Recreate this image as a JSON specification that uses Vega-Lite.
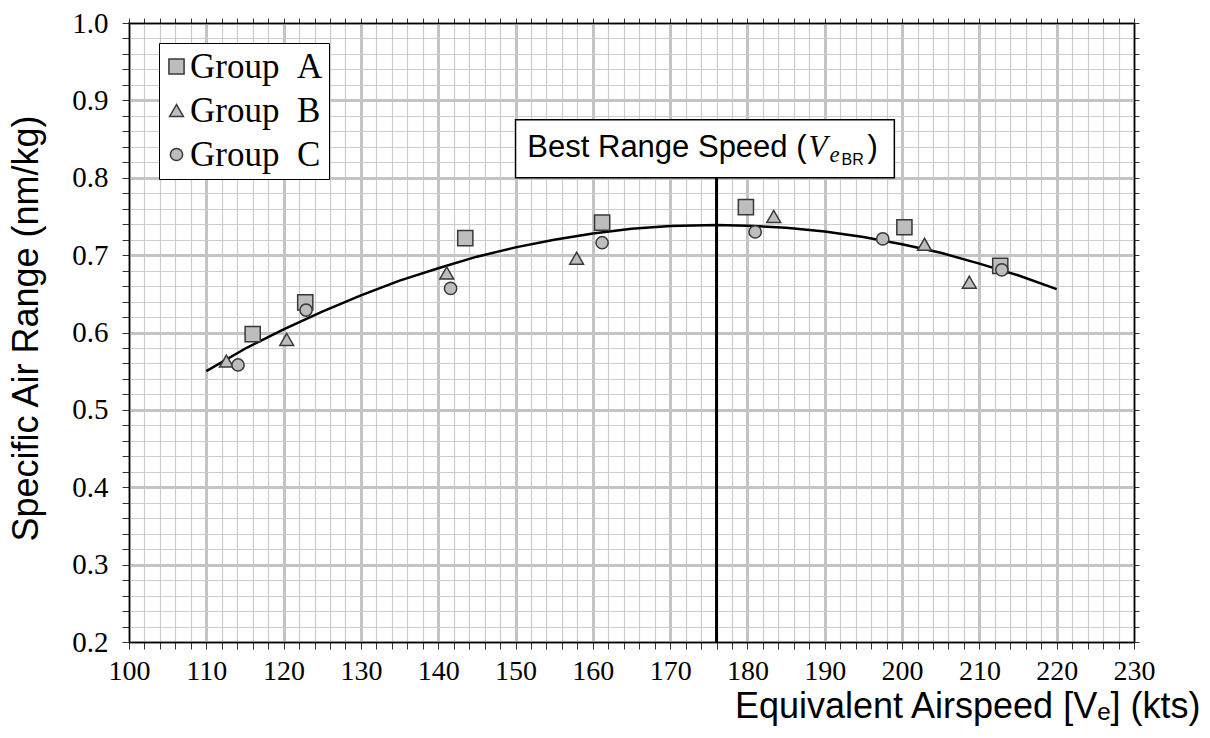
{
  "$schema": "https://vega.github.io/schema/vega-lite/v6.json",
  "autosize": {"type": "none"},
  "padding": {"left": 129, "top": 23, "right": 76, "bottom": 96},
  "width": 1005,
  "height": 619,
  "background": "white",
  "config": {
    "view": {"stroke": "black", "strokeWidth": 1.5},
    "axis": {"domainColor": "black", "domainWidth": 1.5, "tickColor": "#333333", "tickWidth": 1, "tickSize": 7, "labelFont": "Liberation Serif", "labelFontSize": 29, "labelColor": "black", "labelOverlap": false, "labelFlush": false, "titleFont": "Liberation Sans", "titleColor": "black", "titleFontWeight": "normal"}
  },
  "datasets": {
    "points": [
      {"group": "Group A", "speed": 116.0, "sar": 0.598},
      {"group": "Group A", "speed": 122.8, "sar": 0.639},
      {"group": "Group A", "speed": 143.5, "sar": 0.722},
      {"group": "Group A", "speed": 161.2, "sar": 0.742},
      {"group": "Group A", "speed": 179.8, "sar": 0.762},
      {"group": "Group A", "speed": 200.3, "sar": 0.736},
      {"group": "Group A", "speed": 212.7, "sar": 0.686},
      {"group": "Group B", "speed": 112.6, "sar": 0.563},
      {"group": "Group B", "speed": 120.4, "sar": 0.591},
      {"group": "Group B", "speed": 141.1, "sar": 0.677},
      {"group": "Group B", "speed": 157.9, "sar": 0.696},
      {"group": "Group B", "speed": 183.4, "sar": 0.750},
      {"group": "Group B", "speed": 202.9, "sar": 0.714},
      {"group": "Group B", "speed": 208.7, "sar": 0.665},
      {"group": "Group C", "speed": 114.1, "sar": 0.558},
      {"group": "Group C", "speed": 122.9, "sar": 0.629},
      {"group": "Group C", "speed": 141.6, "sar": 0.657},
      {"group": "Group C", "speed": 161.2, "sar": 0.716},
      {"group": "Group C", "speed": 181.0, "sar": 0.730},
      {"group": "Group C", "speed": 197.5, "sar": 0.721},
      {"group": "Group C", "speed": 212.9, "sar": 0.681}
    ],
    "curve": [
      {"speed": 110, "sar": 0.550},
      {"speed": 115, "sar": 0.579},
      {"speed": 120, "sar": 0.604},
      {"speed": 125, "sar": 0.627},
      {"speed": 130, "sar": 0.648},
      {"speed": 135, "sar": 0.667},
      {"speed": 140, "sar": 0.683},
      {"speed": 145, "sar": 0.698},
      {"speed": 150, "sar": 0.710},
      {"speed": 155, "sar": 0.720},
      {"speed": 160, "sar": 0.728},
      {"speed": 165, "sar": 0.734},
      {"speed": 170, "sar": 0.7375},
      {"speed": 176, "sar": 0.739},
      {"speed": 180, "sar": 0.738},
      {"speed": 185, "sar": 0.7355},
      {"speed": 190, "sar": 0.7306},
      {"speed": 195, "sar": 0.7235},
      {"speed": 200, "sar": 0.714},
      {"speed": 205, "sar": 0.703},
      {"speed": 210, "sar": 0.689},
      {"speed": 215, "sar": 0.674},
      {"speed": 220, "sar": 0.656}
    ],
    "marker": [{"speed": 176, "lo": 0.2, "hi": 0.8}],
    "box": [{"x1": 150, "x2": 199, "y1": 0.8, "y2": 0.875, "ty": 0.827}]
  },
  "resolve": {"axis": {"x": "independent", "y": "independent"}},
  "layer": [
    {
      "data": {"name": "curve"},
      "mark": {"type": "line", "color": "black", "strokeWidth": 2.5},
      "encoding": {
        "x": {"field": "speed", "type": "quantitative", "scale": {"domain": [100, 230], "nice": false, "zero": false},
          "axis": {"orient": "top", "labels": false, "title": null, "grid": false, "tickSize": 5,
            "values": [100,102,104,106,108,110,112,114,116,118,120,122,124,126,128,130,132,134,136,138,140,142,144,146,148,150,152,154,156,158,160,162,164,166,168,170,172,174,176,178,180,182,184,186,188,190,192,194,196,198,200,202,204,206,208,210,212,214,216,218,220,222,224,226,228,230]}},
        "y": {"field": "sar", "type": "quantitative", "scale": {"domain": [0.2, 1.0], "nice": false, "zero": false},
          "axis": {"orient": "right", "labels": false, "title": null, "grid": false, "tickSize": 5,
            "values": [0.2,0.22,0.24,0.26,0.28,0.3,0.32,0.34,0.36,0.38,0.4,0.42,0.44,0.46,0.48,0.5,0.52,0.54,0.56,0.58,0.6,0.62,0.64,0.66,0.68,0.7,0.72,0.74,0.76,0.78,0.8,0.82,0.84,0.86,0.88,0.9,0.92,0.94,0.96,0.98,1.0]}}
      }
    },
    {
      "data": {"name": "points"},
      "mark": {"type": "point", "filled": true, "fill": "#bdbdbd", "stroke": "#383838", "strokeWidth": 1.5, "opacity": 1},
      "encoding": {
        "x": {"field": "speed", "type": "quantitative",
          "axis": {"orient": "bottom", "title": "Equivalent Airspeed [Vₑ] (kts)", "titleFontSize": 36, "titleAlign": "right", "titleAnchor": null, "titleX": 1071, "titleY": 75, "titleBaseline": "alphabetic",
            "grid": true,
            "gridColor": {"condition": {"test": "datum.value % 10 === 0", "value": "#c4c4c4"}, "value": "#cccccc"},
            "gridWidth": {"condition": {"test": "datum.value % 10 === 0", "value": 3}, "value": 1.2},
            "labelPadding": 8,
            "labelFontSize": 28,
            "labelExpr": "datum.value % 10 === 0 ? datum.label : ''",
            "values": [100,102,104,106,108,110,112,114,116,118,120,122,124,126,128,130,132,134,136,138,140,142,144,146,148,150,152,154,156,158,160,162,164,166,168,170,172,174,176,178,180,182,184,186,188,190,192,194,196,198,200,202,204,206,208,210,212,214,216,218,220,222,224,226,228,230]}},
        "y": {"field": "sar", "type": "quantitative",
          "axis": {"orient": "left", "title": "Specific Air Range (nm/kg)", "titleFontSize": 36, "titleAngle": -90, "titleAlign": "center", "titleAnchor": null, "titleX": -92, "titleY": 305, "titleBaseline": "alphabetic",
            "grid": true,
            "gridColor": {"condition": {"test": "abs(round(datum.value*10) - datum.value*10) < 0.001", "value": "#c4c4c4"}, "value": "#cccccc"},
            "gridWidth": {"condition": {"test": "abs(round(datum.value*10) - datum.value*10) < 0.001", "value": 3}, "value": 1.2},
            "labelPadding": 14,
            "labelExpr": "abs(round(datum.value*10) - datum.value*10) < 0.001 ? format(datum.value, '.1f') : ''",
            "values": [0.2,0.22,0.24,0.26,0.28,0.3,0.32,0.34,0.36,0.38,0.4,0.42,0.44,0.46,0.48,0.5,0.52,0.54,0.56,0.58,0.6,0.62,0.64,0.66,0.68,0.7,0.72,0.74,0.76,0.78,0.8,0.82,0.84,0.86,0.88,0.9,0.92,0.94,0.96,0.98,1.0]}},
        "shape": {"field": "group", "type": "nominal", "scale": {"domain": ["Group A", "Group B", "Group C"], "range": ["square", "triangle-up", "circle"]},
          "legend": {"title": null, "orient": "none", "legendX": 30, "legendY": 20, "fillColor": "white", "strokeColor": "black", "padding": 6, "rowPadding": 8, "symbolOffset": -6, "labelFont": "Liberation Serif", "labelFontSize": 35, "labelColor": "black", "labelOffset": -4, "labelExpr": "replace(datum.label, ' ', '\u00a0\u00a0') + '\u00a0'", "symbolFillColor": "#bdbdbd", "symbolStrokeColor": "#383838", "symbolStrokeWidth": 1.5, "symbolOpacity": 1}},
        "size": {"field": "group", "type": "nominal", "scale": {"domain": ["Group A", "Group B", "Group C"], "range": [230, 150, 230]}}
      }
    },
    {
      "data": {"name": "box"},
      "mark": {"type": "rect", "fill": "white", "stroke": "black", "strokeWidth": 1.5},
      "encoding": {
        "x": {"field": "x1", "type": "quantitative", "axis": null},
        "x2": {"field": "x2"},
        "y": {"field": "y1", "type": "quantitative", "axis": null},
        "y2": {"field": "y2"}
      }
    },
    {
      "data": {"name": "marker"},
      "mark": {"type": "rule", "color": "black", "strokeWidth": 3},
      "encoding": {
        "x": {"field": "speed", "type": "quantitative", "axis": null},
        "y": {"field": "lo", "type": "quantitative", "axis": null},
        "y2": {"field": "hi"}
      }
    },
    {
      "data": {"name": "box"},
      "mark": {"type": "text", "text": "Best Range Speed (", "font": "Liberation Sans", "fontSize": 31, "align": "right", "baseline": "alphabetic", "dx": 291, "color": "black"},
      "encoding": {"x": {"field": "x1", "type": "quantitative", "axis": null}, "y": {"field": "ty", "type": "quantitative", "axis": null}}
    },
    {
      "data": {"name": "box"},
      "mark": {"type": "text", "text": "V", "font": "Liberation Serif", "fontStyle": "italic", "fontSize": 31, "align": "left", "baseline": "alphabetic", "dx": 293, "color": "black"},
      "encoding": {"x": {"field": "x1", "type": "quantitative", "axis": null}, "y": {"field": "ty", "type": "quantitative", "axis": null}}
    },
    {
      "data": {"name": "box"},
      "mark": {"type": "text", "text": "e", "font": "Liberation Serif", "fontStyle": "italic", "fontSize": 23, "align": "left", "baseline": "alphabetic", "dx": 314, "dy": 5, "color": "black"},
      "encoding": {"x": {"field": "x1", "type": "quantitative", "axis": null}, "y": {"field": "ty", "type": "quantitative", "axis": null}}
    },
    {
      "data": {"name": "box"},
      "mark": {"type": "text", "text": "BR", "font": "Liberation Sans", "fontSize": 16, "align": "left", "baseline": "alphabetic", "dx": 326, "dy": 8, "color": "black"},
      "encoding": {"x": {"field": "x1", "type": "quantitative", "axis": null}, "y": {"field": "ty", "type": "quantitative", "axis": null}}
    },
    {
      "data": {"name": "box"},
      "mark": {"type": "text", "text": ")", "font": "Liberation Sans", "fontSize": 31, "align": "left", "baseline": "alphabetic", "dx": 352, "color": "black"},
      "encoding": {"x": {"field": "x1", "type": "quantitative", "axis": null}, "y": {"field": "ty", "type": "quantitative", "axis": null}}
    }
  ]
}
